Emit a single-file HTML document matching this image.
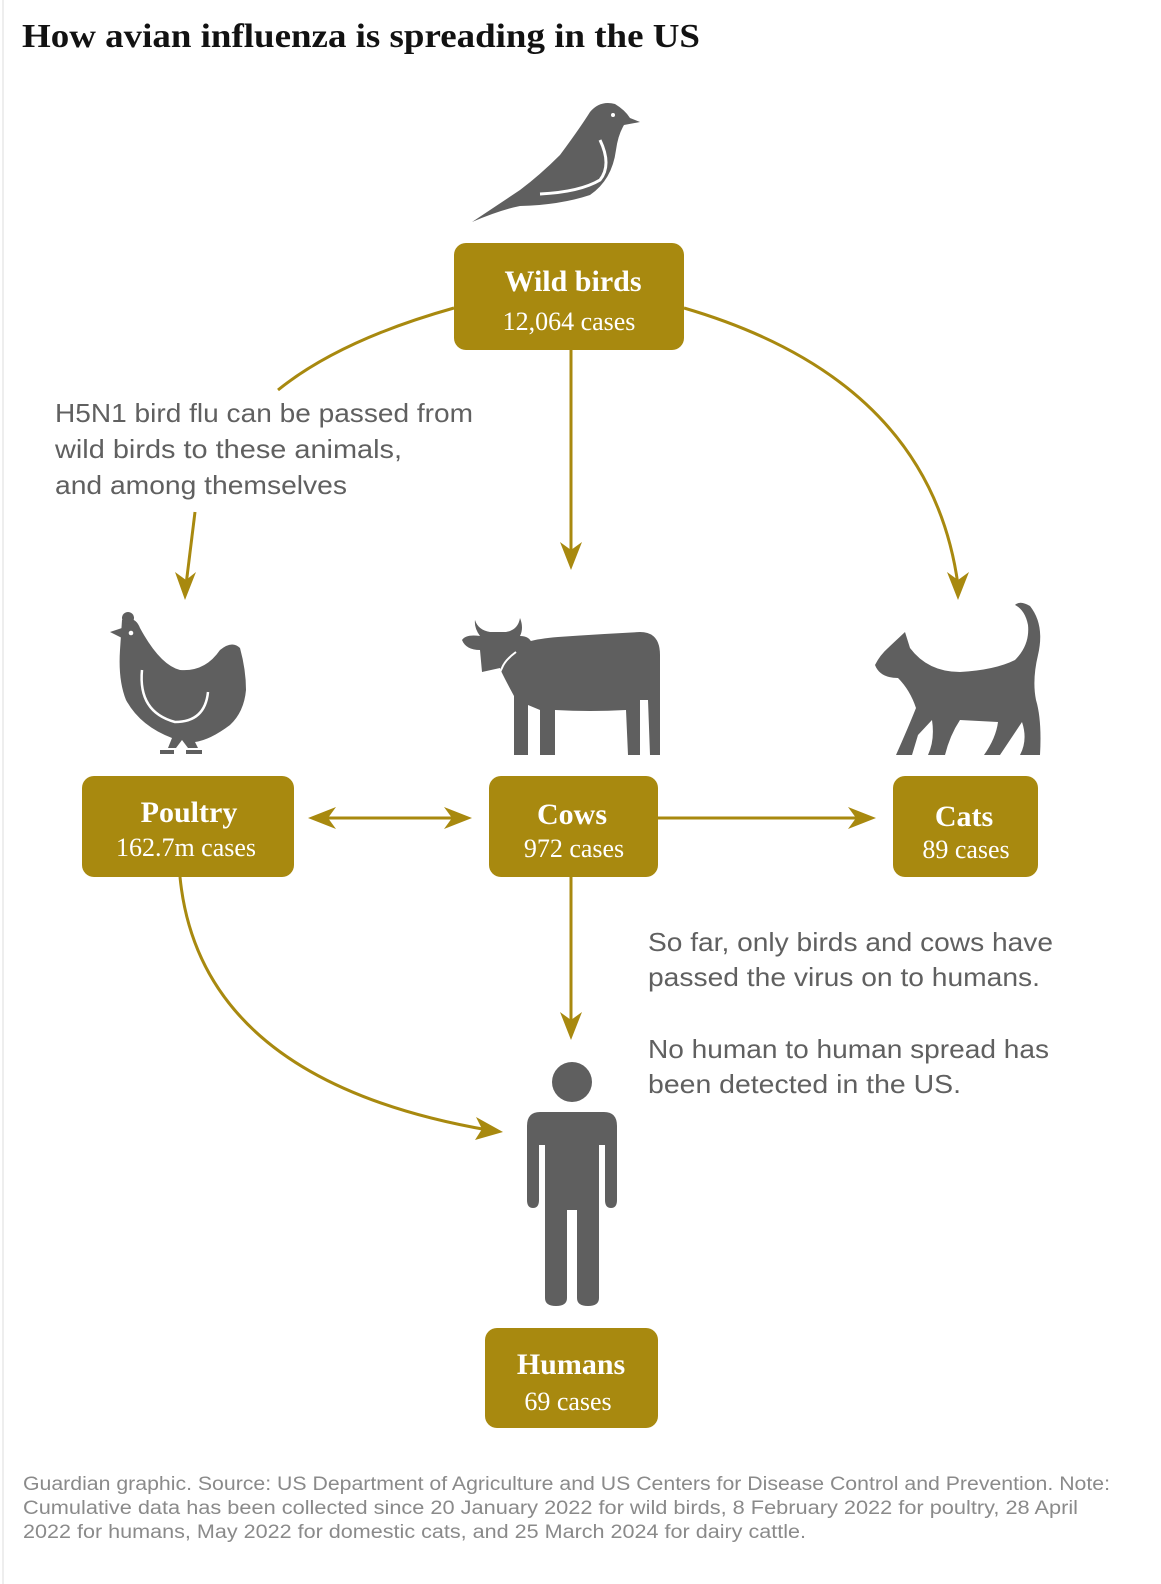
<!DOCTYPE html>
<html><head><meta charset="utf-8"><style>
html,body{margin:0;padding:0;background:#fff;}
svg{display:block;}
</style></head><body>
<svg width="1161" height="1584" viewBox="0 0 1161 1584" xmlns="http://www.w3.org/2000/svg">
<defs>
<marker id="ah" viewBox="0 0 10 10" refX="9" refY="5" markerWidth="8" markerHeight="8" markerUnits="userSpaceOnUse" orient="auto-start-reverse">
</marker>
</defs>
<rect x="0" y="0" width="1161" height="1584" fill="#fff"/>
<line x1="3" y1="0" x2="3" y2="1584" stroke="#ddd" stroke-width="1"/>
<text x="22" y="47" font-family="Liberation Serif, serif" font-weight="bold" font-size="34" fill="#121212" textLength="678" lengthAdjust="spacingAndGlyphs">How avian influenza is spreading in the US</text>

<g stroke="#a8890f" stroke-width="3" fill="none">
<path d="M454 308 Q340 340 278 390"/>
<path d="M195 512 L186 585"/>
<path d="M571 350 L571 555"/>
<path d="M684 308 Q930 380 958 585"/>
<path d="M322 818 L458 818"/>
<path d="M658 818 L862 818"/>
<path d="M571 877 L571 1025"/>
<path d="M180 877 Q200 1080 488 1130"/>
</g>
<g fill="#a8890f">
<polygon points="175,572 185,600 196,572 186,580"/>
<polygon points="560,542 571,570 582,542 571,550"/>
<polygon points="947,572 958,600 969,572 958,580"/>
<polygon points="336,807 308,818 336,829 328,818"/>
<polygon points="444,807 472,818 444,829 452,818"/>
<polygon points="848,807 876,818 848,829 856,818"/>
<polygon points="560,1012 571,1040 582,1012 571,1020"/>
<polygon points="476,1117 503,1132 475,1140 482,1129"/>
</g>

<!-- boxes -->
<g fill="#a8890f">
<rect x="454" y="243" width="230" height="107" rx="12"/>
<rect x="82" y="776" width="212" height="101" rx="12"/>
<rect x="489" y="776" width="169" height="101" rx="12"/>
<rect x="893" y="776" width="145" height="101" rx="12"/>
<rect x="485" y="1328" width="173" height="100" rx="12"/>
</g>
<g font-family="Liberation Serif, serif" fill="#fff" text-anchor="middle">
<text x="573" y="291" font-size="30" font-weight="bold">Wild birds</text>
<text x="569" y="330" font-size="26">12,064 cases</text>
<text x="189" y="822" font-size="30" font-weight="bold">Poultry</text>
<text x="186" y="856" font-size="26">162.7m cases</text>
<text x="572" y="824" font-size="30" font-weight="bold">Cows</text>
<text x="574" y="857" font-size="26">972 cases</text>
<text x="964" y="826" font-size="30" font-weight="bold">Cats</text>
<text x="966" y="858" font-size="26">89 cases</text>
<text x="571" y="1374" font-size="30" font-weight="bold">Humans</text>
<text x="568" y="1410" font-size="26">69 cases</text>
</g>

<g font-family="Liberation Sans, sans-serif" font-size="26" fill="#606060">
<text x="55" y="422" textLength="418" lengthAdjust="spacingAndGlyphs">H5N1 bird flu can be passed from</text>
<text x="55" y="458" textLength="347" lengthAdjust="spacingAndGlyphs">wild birds to these animals,</text>
<text x="55" y="494" textLength="292" lengthAdjust="spacingAndGlyphs">and among themselves</text>
<text x="648" y="951" textLength="405" lengthAdjust="spacingAndGlyphs">So far, only birds and cows have</text>
<text x="648" y="986" textLength="392" lengthAdjust="spacingAndGlyphs">passed the virus on to humans.</text>
<text x="648" y="1058" textLength="401" lengthAdjust="spacingAndGlyphs">No human to human spread has</text>
<text x="648" y="1093" textLength="313" lengthAdjust="spacingAndGlyphs">been detected in the US.</text>
</g>

<g font-family="Liberation Sans, sans-serif" font-size="19" fill="#8a8a8a">
<text x="23" y="1490" textLength="1087" lengthAdjust="spacingAndGlyphs">Guardian graphic. Source: US Department of Agriculture and US Centers for Disease Control and Prevention. Note:</text>
<text x="23" y="1514" textLength="1055" lengthAdjust="spacingAndGlyphs">Cumulative data has been collected since 20 January 2022 for wild birds, 8 February 2022 for poultry, 28 April</text>
<text x="23" y="1538" textLength="783" lengthAdjust="spacingAndGlyphs">2022 for humans, May 2022 for domestic cats, and 25 March 2024 for dairy cattle.</text>
</g>

<!-- bird -->
<g fill="#5f5f5f">
<path d="M472 222 L520 190 Q540 175 560 155 Q580 128 590 112 Q600 100 615 104 Q625 110 630 118 L640 122 L624 125 Q618 135 616 150 Q612 180 590 195 Q560 205 520 206 Q500 210 472 222 Z"/>
</g>
<path d="M600 140 Q612 165 600 180 Q580 192 540 194" stroke="#fff" stroke-width="3" fill="none"/>
<circle cx="613" cy="115" r="2" fill="#fff"/>

<!-- hen -->
<g fill="#5f5f5f">
<path d="M122 620 Q135 615 140 628 Q160 665 180 670 Q205 672 220 650 Q232 640 240 648 Q246 670 246 690 Q244 712 230 725 Q210 740 195 742 L198 748 L188 748 L182 740 L176 748 L168 748 L172 738 Q140 726 126 700 Q118 680 120 650 Z"/>
<circle cx="128" cy="618" r="6"/>
<path d="M110 632 L122 628 L122 638 Z"/>
<rect x="160" y="750" width="14" height="4"/>
<rect x="186" y="750" width="16" height="4"/>
</g>
<path d="M142 670 Q138 712 175 722 Q205 722 208 692" stroke="#fff" stroke-width="2.5" fill="none"/>
<circle cx="131" cy="633" r="2.3" fill="#fff"/>

<!-- cow -->
<g fill="#5f5f5f">
<path d="M475 620 Q478 630 490 632 L506 632 Q518 630 520 618 Q524 628 520 636 Q530 636 532 644 Q528 648 520 650 L514 650 Q520 640 558 637 Q600 634 640 632 Q660 632 660 655 L660 755 L650 755 L648 700 L640 700 L640 755 L628 755 L626 710 Q590 712 555 710 L555 755 L540 755 L540 710 L528 705 L528 755 L514 755 L514 696 Q500 670 500 668 L482 672 L480 650 Q466 650 462 640 Q466 634 480 636 Q474 628 475 620 Z"/>
</g>
<path d="M516 652 Q505 660 502 668 L500 672" stroke="#fff" stroke-width="2" fill="none"/>

<!-- cat -->
<g fill="#5f5f5f">
<path d="M875 665 Q880 655 888 648 L905 632 L910 648 Q928 672 960 672 Q995 670 1015 660 Q1030 645 1028 625 Q1025 610 1015 605 Q1020 600 1030 606 Q1045 625 1038 655 Q1032 680 1036 700 Q1042 720 1040 755 L1020 755 Q1028 740 1022 722 Q1010 740 1000 755 L984 755 Q996 738 998 722 L960 720 Q950 735 945 755 L928 755 Q935 740 932 720 L918 735 L912 755 L896 755 Q908 728 916 708 Q910 690 898 678 Q880 678 875 665 Z"/>
</g>

<!-- human -->
<g fill="#5f5f5f">
<circle cx="572" cy="1082" r="20"/>
<path d="M540 1112 L604 1112 Q617 1112 617 1126 L617 1200 Q617 1208 611 1208 Q605 1208 605 1200 L605 1145 L599 1145 L599 1298 Q599 1306 588 1306 Q577 1306 577 1298 L577 1210 L567 1210 L567 1298 Q567 1306 556 1306 Q545 1306 545 1298 L545 1145 L539 1145 L539 1200 Q539 1208 533 1208 Q527 1208 527 1200 L527 1126 Q527 1112 540 1112 Z"/>
</g>
</svg>
</body></html>
